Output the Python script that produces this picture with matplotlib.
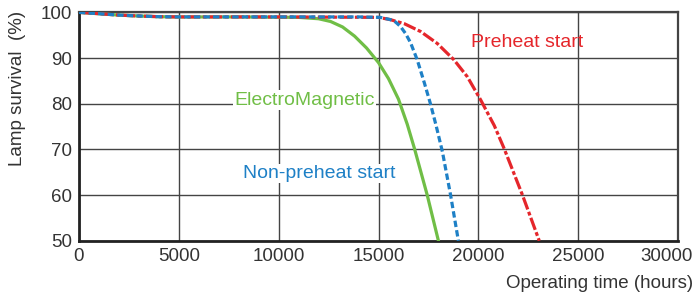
import matplotlib.pyplot as plt
from matplotlib.transforms import ScaledTranslation

plt.rcParams['font.family'] = ['Liberation Sans', 'DejaVu Sans']

# survival curves (hours, %)
em_hours = [0, 1000, 2000, 3000, 4000, 5000, 8000, 11000, 12000, 12600, 13200, 13800,
            14400, 15000, 15500, 16000, 16440, 16800, 17440, 18000]
em_surv = [100, 99.7, 99.4, 99.2, 99.05, 99.0, 99.0, 98.9, 98.6, 98.0, 96.8, 94.8,
           92.2, 89.0, 85.5, 81.0, 75.5, 70.2, 60.0, 50.0]

nps_hours = [0, 1000, 2000, 3000, 4000, 5000, 10000, 14000, 15100, 15600, 15850, 16100,
             16350, 16600, 16940, 17300, 17600, 17880, 18200, 18610, 19000]
nps_surv = [100, 99.7, 99.4, 99.2, 99.05, 99.0, 99.0, 99.0, 98.9, 98.4, 97.9, 96.9,
            95.4, 93.4, 89.6, 84.5, 80.0, 75.3, 69.5, 60.0, 50.0]

ph_hours = [0, 1000, 2000, 3000, 4000, 5000, 10000, 15000, 15600, 16300, 17110, 17940,
            18780, 19450, 20120, 20800, 21290, 22210, 23050]
ph_surv = [100, 99.7, 99.4, 99.2, 99.05, 99.0, 99.0, 98.9, 98.4, 97.5, 95.8, 93.2,
           89.6, 85.9, 80.8, 75.2, 70.2, 60.0, 50.0]

xticks = [0, 5000, 10000, 15000, 20000, 25000, 30000]
yticks = [50, 60, 70, 80, 90, 100]

red = '#e5262b'
blue = '#1e80c6'
green = '#70be46'

fig = plt.figure(figsize=(6.99, 2.94), dpi=100)
ax = fig.add_axes([0.113, 0.181, 0.857, 0.777])

ax.plot(em_hours, em_surv, color=green, lw=2.3, zorder=3)
ax.plot(nps_hours, nps_surv, color=blue, lw=2.3, dashes=(2.0, 1.0), zorder=4)
ax.plot(ph_hours, ph_surv, color=red, lw=2.3, dashes=(4.0, 0.8, 1.2, 0.8), zorder=3)

ax.set_xlim(0, 30000)
ax.set_ylim(50, 100)
ax.set_xticks(xticks)
ax.set_yticks(yticks)
ax.tick_params(length=0, labelsize=13.5, colors='#333333', pad=5)
ax.grid(True, color='#444444', lw=1.0)
ax.set_axisbelow(True)
for side in ['left', 'bottom']:
    ax.spines[side].set_color('#222222')
    ax.spines[side].set_linewidth(2.0)
for side in ['top', 'right']:
    ax.spines[side].set_color('#444444')
    ax.spines[side].set_linewidth(1.6)

# last x tick label sits a bit to the left so it fits
last = ax.get_xticklabels()[-1]
last.set_transform(last.get_transform() + ScaledTranslation(-11 / 100, 0, fig.dpi_scale_trans))

box = dict(facecolor='white', edgecolor='none', pad=1.0)
ax.text(22450, 93.5, 'Preheat start', color=red, fontsize=14, ha='center', va='center', zorder=5)
ax.text(7780, 80.8, 'ElectroMagnetic', color=green, fontsize=14, ha='left', va='center', bbox=box, zorder=2)
ax.text(8220, 64.7, 'Non-preheat start', color=blue, fontsize=14, ha='left', va='center', bbox=box, zorder=2)

fig.text(0.992, 0.037, 'Operating time (hours)', fontsize=13.5, color='#333333', ha='right', va='center')
fig.text(0.025, 0.70, 'Lamp survival  (%)', fontsize=13.5, color='#333333', rotation=90, ha='center', va='center')

fig.savefig('out.png', dpi=100)
